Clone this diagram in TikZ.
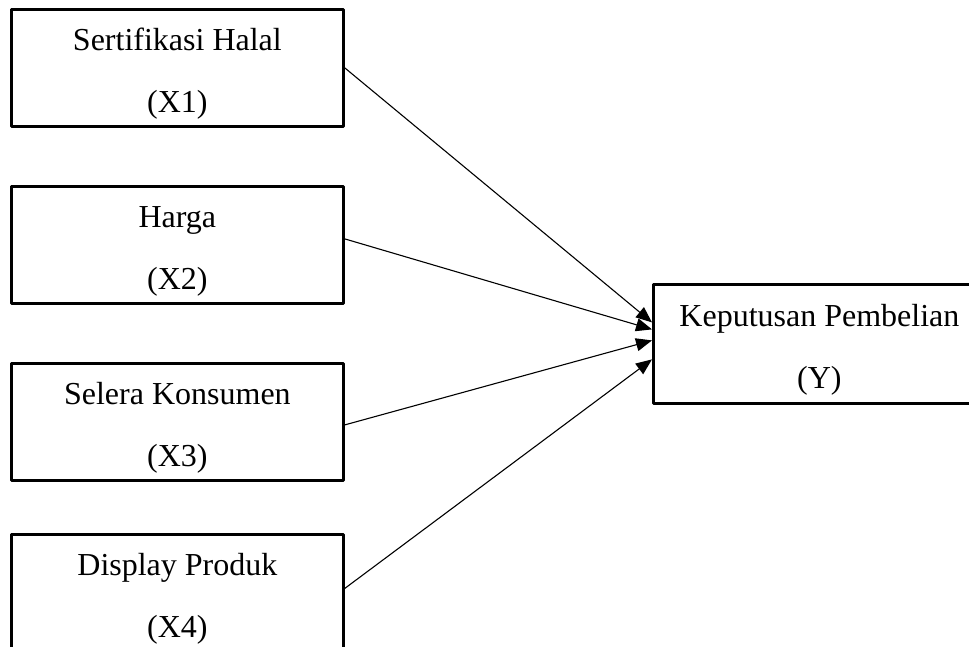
\documentclass[tikz,border=0pt]{standalone}
\usepackage{fontspec}
\setmainfont{Liberation Serif}
\usetikzlibrary{arrows.meta,positioning}

\newcommand{\twolines}[2]{\rule{0pt}{41pt}#1\\#2\rule[-14pt]{0pt}{0pt}}

\begin{document}
\begin{tikzpicture}[x=1pt,y=-1pt,line cap=round,line join=round,
  varbox/.style={draw,line width=2.8pt,minimum width=332pt,minimum height=117pt,
    inner ysep=0pt,align=center,anchor=north west,font=\fontsize{32pt}{62pt}\selectfont},
  link/.style={line width=1.1pt,-{Triangle[length=16pt,width=13pt]}}]
  \useasboundingbox (0,0) rectangle (969,647);
  \clip (0,0) rectangle (969,647);
  % variabel bebas
  \node[varbox] (x1) at (10,8) {\twolines{Sertifikasi Halal}{(X1)}};
  \node[varbox] (x2) at (10,185) {\twolines{Harga}{(X2)}};
  \node[varbox] (x3) at (10,362) {\twolines{Selera Konsumen}{(X3)}};
  \node[varbox] (x4) at (10,533) {\twolines{Display Produk}{(X4)}};
  % variabel terikat
  \node[varbox,minimum height=119pt] (y) at (652,283) {\twolines{Keputusan Pembelian}{(Y)}};
  % panah
  \draw[link] (x1.east) -- ([yshift=21.5pt]y.west);
  \draw[link] ([yshift=6pt]x2.east) -- ([yshift=14.5pt]y.west);
  \draw[link] ([yshift=-3pt]x3.east) -- ([yshift=3.5pt]y.west);
  \draw[link] ([yshift=4.5pt]x4.east) -- ([yshift=-15.5pt]y.west);
\end{tikzpicture}
\end{document}
